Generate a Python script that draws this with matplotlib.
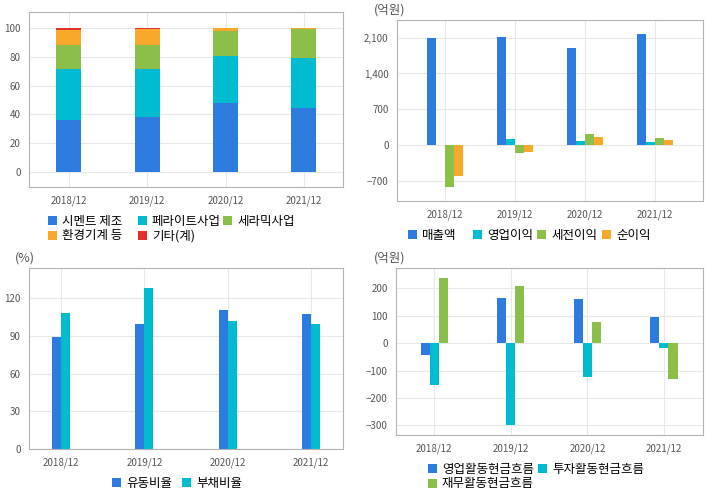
import matplotlib
matplotlib.use("Agg")
import matplotlib.pyplot as plt
import numpy as np

plt.rcParams['font.family'] = ['Noto Sans CJK KR', 'DejaVu Sans']

years = ["2018/12", "2019/12", "2020/12", "2021/12"]

# 1) sales mix (%)
mix_names = ["시멘트 제조", "페라이트사업", "세라믹사업", "환경기계 등", "기타(계)"]
cement = [36.0, 38.3, 47.8, 44.6]
ferrite = [35.5, 33.2, 32.6, 34.4]
ceramic = [16.5, 16.5, 17.3, 20.0]
envmach = [10.5, 11.0, 2.3, 1.0]
etc = [1.5, 1.0, 0.0, 0.0]

# 2) P&L (억원)
pl_names = ["매출액", "영업이익", "세전이익", "순이익"]
sales = [2085, 2110, 1895, 2175]
op_profit = [3, 123, 84, 64]
pretax = [-815, -150, 220, 142]
net = [-595, -130, 168, 103]

# 3) ratios (%)
ratio_names = ["유동비율", "부채비율"]
current_ratio = [89.3, 99.6, 110.7, 107.5]
debt_ratio = [108.3, 128.2, 102.0, 99.6]

# 4) cash flows (억원)
cf_names = ["영업활동현금흐름", "투자활동현금흐름", "재무활동현금흐름"]
cf_op = [-42, 165, 161, 96]
cf_inv = [-151, -297, -122, -17]
cf_fin = [238, 208, 78, -129]

BLUE = "#2e7be0"
CYAN = "#00bcd0"
GREEN = "#8cbf4a"
ORANGE = "#f8a82a"
RED = "#e0312a"

W, H = 720, 496
fig = plt.figure(figsize=(7.2, 4.96), dpi=100)


def box(l, r, t, b):
    return [l / W, 1 - b / H, (r - l) / W, (b - t) / H]


def style(ax):
    for s in ax.spines.values():
        s.set_color("#b4b4b4")
    ax.grid(True, color="#e8e8e8", lw=0.8)
    ax.set_axisbelow(True)
    ax.tick_params(length=0, labelsize=7, colors="#555555", pad=6)
    ax.set_xticks(range(4))
    ax.set_xticklabels(years)


def leg(ax, spots):
    # one legend entry per spot (square left x, row centre y), in pixels
    h, l = ax.get_legend_handles_labels()
    for hh, ll, (px, py) in zip(h, l, spots):
        fig.legend([hh], [ll], loc="center left",
                   bbox_to_anchor=(px / W, 1 - py / H),
                   frameon=False, fontsize=9, handlelength=0.72,
                   handleheight=0.72, handletextpad=0.4,
                   borderpad=0, borderaxespad=0)


x = np.arange(4)

# panel 1
ax1 = fig.add_axes(box(29, 343, 12, 187))
style(ax1)
bottom = np.zeros(4)
for vals, c, n in zip([cement, ferrite, ceramic, envmach, etc],
                      [BLUE, CYAN, GREEN, ORANGE, RED], mix_names):
    ax1.bar(x, vals, 0.32, bottom=bottom, color=c, label=n)
    bottom += np.array(vals)
ax1.set_xlim(-0.51, 3.5)
ax1.set_ylim(-10.4, 111)
ax1.set_yticks([0, 20, 40, 60, 80, 100])
leg(ax1, [(48, 221), (138, 221), (223, 221), (48, 236), (138, 236)])

# panel 2
ax2 = fig.add_axes(box(397, 703, 20, 201))
style(ax2)
bw = 0.129
for i, (vals, c, n) in enumerate(zip([sales, op_profit, pretax, net],
                                     [BLUE, CYAN, GREEN, ORANGE], pl_names)):
    ax2.bar(x + (i - 1.5) * bw, vals, bw, color=c, label=n)
ax2.set_xlim(-0.68, 3.68)
ax2.set_ylim(-1086, 2443)
ax2.set_yticks([-700, 0, 700, 1400, 2100])
ax2.yaxis.set_major_formatter(matplotlib.ticker.StrMethodFormatter("{x:,.0f}"))
leg(ax2, [(408, 235), (473, 235), (537, 235), (602, 235)])
fig.text(374 / W, 1 - 10 / H, "(억원)", fontsize=9, color="#555555", va="center")

# panel 3
ax3 = fig.add_axes(box(29, 343, 268, 449))
style(ax3)
bw = 0.108
for i, (vals, c, n) in enumerate(zip([current_ratio, debt_ratio],
                                     [BLUE, CYAN], ratio_names)):
    ax3.bar(x + (i - 0.5) * bw, vals, bw, color=c, label=n)
ax3.set_xlim(-0.39, 3.39)
ax3.set_ylim(0, 144)
ax3.set_yticks([0, 30, 60, 90, 120])
leg(ax3, [(112, 483), (182, 483)])
fig.text(15 / W, 1 - 258 / H, "(%)", fontsize=9, color="#555555", va="center")

# panel 4
ax4 = fig.add_axes(box(396, 703, 268, 435))
style(ax4)
bw = 0.118
for i, (vals, c, n) in enumerate(zip([cf_op, cf_inv, cf_fin],
                                     [BLUE, CYAN, GREEN], cf_names)):
    ax4.bar(x + (i - 1) * bw, vals, bw, color=c, label=n)
ax4.set_xlim(-0.5, 3.51)
ax4.set_ylim(-335, 274)
ax4.set_yticks([-300, -200, -100, 0, 100, 200])
leg(ax4, [(428, 469), (538, 469), (428, 484)])
fig.text(374 / W, 1 - 258 / H, "(억원)", fontsize=9, color="#555555", va="center")

fig.savefig("out.png", dpi=100)
